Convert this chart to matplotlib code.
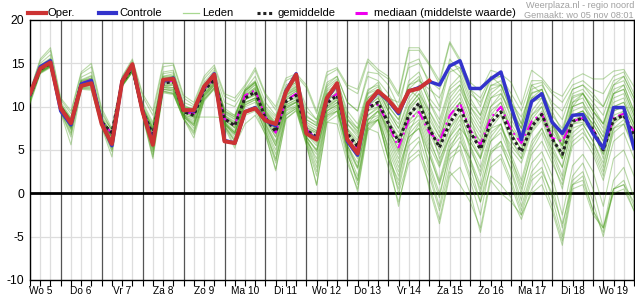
import matplotlib
matplotlib.use("Agg")
import matplotlib.pyplot as plt
from matplotlib.lines import Line2D

plt.rcParams['font.family'] = ['Liberation Sans', 'DejaVu Sans']

day_labels = ["Wo 5", "Do 6", "Vr 7", "Za 8", "Zo 9", "Ma 10", "Di 11", "Wo 12",
              "Do 13", "Vr 14", "Za 15", "Zo 16", "Ma 17", "Di 18", "Wo 19"]
y_ticks = [-10, -5, 0, 5, 10, 15, 20]
legend_labels = ['Oper.', 'Controle', 'Leden', 'gemiddelde', 'mediaan (middelste waarde)']

# 6-hourly steps from Wo 5 06:00 to Do 20 00:00 (60 steps)
oper = [11.5, 14.4, 15.1,
        9.8, 8.1, 12.4, 12.7, 8.0, 5.7, 12.9, 14.9, 9.4, 5.6, 13.1, 13.2,
        9.6, 9.6, 12.3, 13.7, 6.0, 5.8, 9.4, 9.8, 8.4, 8.0, 11.7, 13.7,
        6.9, 6.2, 11.0, 12.7, 6.2, 4.6, 10.4, 11.8, 10.8, 9.4, 11.8, 12.1, 13.0]

controle = [11.4, 14.6, 15.3,
            9.5, 7.9, 12.6, 13.0, 8.2, 5.5, 13.0, 14.8, 9.5, 5.8, 12.9, 13.3,
            9.6, 9.5, 12.2, 13.8, 6.1, 5.8, 9.4, 9.9, 8.4, 7.8, 11.8, 13.8,
            7.0, 6.3, 10.9, 12.6, 6.0, 4.4, 10.3, 11.7, 10.7, 9.2, 11.8, 12.2,
            12.9, 12.5, 14.7, 15.3, 12.1, 12.1, 13.2, 14.0, 10.0, 6.2, 10.6, 11.5,
            8.2, 6.9, 9.0, 9.1, 6.9, 5.2, 9.9, 9.9, 5.2]

gemiddelde = [11.3, 14.3, 15.0,
              9.9, 8.1, 12.6, 12.9, 8.2, 7.0, 12.8, 14.5, 9.5, 6.8, 12.7, 12.9,
              9.4, 9.0, 11.9, 13.1, 8.6, 7.8, 11.0, 11.7, 8.7, 7.1, 10.6, 11.3,
              7.3, 6.5, 10.4, 11.3, 6.9, 5.4, 9.8, 10.5, 8.1, 6.0, 9.0, 10.4,
              7.5, 5.3, 8.1, 9.9, 7.1, 5.1, 8.1, 9.4, 6.7, 4.8, 7.7, 9.1,
              6.3, 4.5, 8.3, 8.7, 7.3, 5.0, 8.5, 9.0, 6.7]

mediaan = [11.3, 14.4, 15.0,
           9.9, 8.1, 12.7, 13.1, 8.3, 6.9, 12.8, 14.6, 9.5, 6.7, 12.8, 13.0,
           9.4, 9.2, 12.0, 13.2, 8.6, 7.9, 11.3, 11.9, 8.8, 7.0, 10.7, 11.5,
           7.4, 6.3, 10.6, 11.5, 6.5, 5.2, 10.2, 10.2, 8.0, 5.3, 8.5, 9.4,
           7.0, 6.0, 9.0, 10.4, 7.3, 5.6, 8.7, 10.0, 7.3, 5.8, 8.3, 9.2,
           6.4, 6.0, 8.3, 8.7, 7.3, 5.2, 8.7, 9.2, 7.1]

leden = [
    [11.6, 14.8, 15.6, 10.2, 8.6, 13.0, 13.5, 8.8, 7.4, 13.1, 15.0, 10.0, 7.5, 13.5, 13.8,
     10.0, 9.8, 12.6, 13.9, 9.5, 8.8, 11.8, 12.8, 9.6, 8.2, 11.6, 12.4, 8.5, 7.8, 11.8, 12.6,
     8.6, 7.5, 11.6, 12.3, 10.1, 8.5, 12.0, 13.2, 10.6, 8.5, 12.3, 13.6, 10.5, 9.0, 12.4, 13.0,
     10.4, 8.8, 11.6, 12.0, 9.0, 7.5, 11.2, 11.6, 9.5, 8.0, 11.5, 12.0, 9.0],
    [11.0, 14.0, 14.8, 9.6, 7.6, 12.4, 12.6, 8.0, 6.6, 12.6, 14.3, 9.2, 6.0, 12.2, 12.5,
     9.0, 8.4, 11.5, 12.8, 8.0, 6.8, 10.5, 11.0, 7.8, 5.5, 9.8, 10.5, 6.0, 4.5, 9.5, 10.2,
     5.2, 2.8, 8.0, 8.5, 5.5, 2.5, 6.8, 8.2, 4.5, 1.2, 5.5, 7.0, 3.5, 0.5, 4.8, 5.5,
     2.8, -0.8, 3.5, 4.8, 2.0, -2.5, 3.2, 4.5, 2.5, -1.5, 4.0, 5.0, 2.0],
    [11.9, 15.3, 16.5, 10.8, 9.2, 13.8, 14.6, 9.5, 7.2, 13.4, 15.3, 11.2, 9.0, 14.6, 14.8,
     11.0, 10.2, 13.2, 14.5, 11.2, 10.6, 12.3, 14.2, 11.3, 9.6, 13.0, 13.6, 12.2, 9.2, 13.6, 14.3,
     12.2, 11.5, 15.2, 14.0, 13.2, 11.2, 16.5, 16.5, 14.8, 12.6, 17.3, 15.2, 12.8, 11.8, 14.2, 13.8,
     12.8, 10.2, 14.2, 13.3, 11.8, 11.2, 13.2, 13.8, 13.2, 13.2, 14.1, 14.3, 12.3],
    [10.8, 14.1, 14.6, 9.8, 8.0, 12.2, 12.3, 8.1, 5.8, 12.5, 14.2, 9.0, 5.5, 12.0, 12.0,
     8.8, 8.0, 11.2, 12.4, 8.0, 7.0, 10.2, 10.8, 8.4, 6.5, 10.0, 10.6, 6.8, 5.8, 10.0, 11.0,
     6.5, 4.6, 9.5, 10.5, 7.5, 4.8, 8.2, 9.8, 6.5, 3.2, 6.8, 9.0, 6.5, 4.2, 8.0, 9.2,
     6.2, 4.0, 7.2, 8.8, 5.5, 3.0, 8.0, 8.2, 7.0, 4.5, 8.3, 8.8, 6.0],
    [10.3, 13.8, 14.5, 9.3, 5.6, 12.0, 11.9, 7.6, 4.2, 12.3, 14.0, 8.9, 4.0, 11.6, 11.4,
     8.6, 6.4, 10.6, 12.1, 7.6, 5.2, 9.0, 9.5, 6.7, 2.8, 8.6, 9.6, 5.6, 1.0, 8.2, 9.0,
     4.0, 0.2, 7.2, 8.5, 4.5, 1.0, 6.0, 8.0, 3.0, -0.5, 5.0, 6.5, 3.0, -1.0, 4.5, 6.0,
     3.5, 0.0, 5.0, 7.0, 4.0, 0.5, 6.5, 7.5, 5.0, 2.0, 7.5, 8.0, 5.5],
    [11.4, 14.6, 15.2, 10.0, 8.4, 12.8, 13.2, 8.4, 7.0, 13.0, 14.8, 9.8, 7.0, 13.2, 13.5,
     9.6, 9.2, 12.2, 13.5, 9.0, 8.0, 11.5, 12.5, 9.2, 7.5, 11.2, 12.0, 8.0, 7.2, 11.0, 12.0,
     8.0, 6.5, 10.5, 11.5, 9.0, 7.0, 10.0, 11.5, 8.5, 6.5, 9.5, 11.0, 8.0, 6.0, 9.0, 10.5,
     7.5, 5.5, 9.0, 10.5, 7.5, 5.5, 9.5, 10.0, 8.5, 6.5, 10.0, 10.5, 8.0],
    [11.2, 14.2, 15.0, 9.7, 7.8, 12.5, 12.8, 8.2, 6.8, 12.7, 14.4, 9.4, 6.5, 12.5, 12.7,
     9.3, 8.8, 11.8, 13.0, 8.4, 7.6, 10.8, 11.5, 8.5, 6.8, 10.2, 10.8, 7.0, 6.0, 10.0, 10.8,
     6.0, 4.5, 9.0, 9.8, 6.5, 3.5, 7.5, 8.5, 5.0, 1.5, 6.0, 7.5, 4.0, 0.0, 5.0, 6.0,
     2.5, -1.5, 2.5, 4.0, 1.0, -4.0, 2.0, 3.5, 0.5, -4.0, 1.5, 3.0, -0.5],
    [11.5, 14.5, 15.3, 10.1, 8.3, 12.7, 13.0, 8.5, 6.4, 12.9, 14.6, 9.6, 6.8, 12.9, 13.2,
     9.5, 9.3, 12.0, 13.3, 8.8, 7.8, 11.2, 12.0, 9.0, 7.3, 11.0, 11.8, 7.6, 7.0, 11.2, 12.4,
     7.5, 5.5, 10.5, 11.6, 10.5, 9.0, 12.5, 13.0, 12.0, 11.0, 14.0, 14.5, 11.5, 10.5, 13.0, 13.5,
     10.5, 8.0, 12.5, 12.8, 10.0, 8.5, 12.0, 12.5, 11.0, 10.0, 12.5, 13.0, 10.5],
    [11.1, 14.3, 14.9, 9.9, 8.1, 12.6, 12.9, 8.3, 6.2, 12.8, 14.5, 9.5, 6.2, 12.6, 13.0,
     9.4, 9.0, 11.9, 13.0, 8.6, 7.6, 11.3, 12.0, 8.8, 7.2, 10.8, 11.5, 7.2, 6.5, 10.5, 11.8,
     7.0, 5.5, 10.2, 11.0, 8.5, 6.0, 9.5, 11.0, 8.0, 5.0, 8.5, 10.5, 7.0, 5.0, 8.5, 10.0,
     7.0, 5.0, 8.0, 9.5, 6.5, 4.5, 8.5, 9.0, 7.5, 5.0, 9.0, 9.5, 7.0],
    [10.9, 14.0, 14.7, 9.5, 7.0, 12.3, 12.4, 7.9, 5.5, 12.5, 14.1, 9.1, 5.0, 12.0, 11.8,
     8.9, 7.5, 11.0, 12.5, 8.2, 6.5, 10.0, 10.5, 7.5, 4.5, 9.5, 10.0, 6.5, 3.5, 9.0, 9.8,
     5.0, 2.0, 8.0, 8.8, 4.0, 0.5, 5.5, 6.5, 2.5, -1.5, 4.0, 5.0, 1.5, -2.5, 3.5, 4.5,
     1.5, -2.0, 2.0, 3.0, -0.5, -5.0, 1.5, 2.5, -1.0, -5.0, 0.5, 1.5, -1.5],
    [11.7, 15.0, 16.0, 10.5, 8.8, 13.4, 14.0, 9.2, 7.3, 13.2, 15.1, 10.5, 8.2, 14.0, 14.2,
     10.5, 10.0, 12.8, 14.2, 10.5, 10.0, 12.0, 13.5, 10.5, 9.0, 12.5, 13.0, 10.0, 8.5, 12.8, 13.5,
     10.5, 9.5, 13.5, 13.0, 11.5, 9.5, 15.0, 15.5, 12.5, 10.0, 15.5, 14.0, 11.0, 9.0, 12.5, 12.5,
     9.5, 6.0, 10.5, 11.0, 8.0, 5.0, 10.0, 11.5, 10.0, 8.0, 12.0, 12.5, 9.5],
    [11.0, 14.1, 14.8, 9.8, 7.9, 12.4, 12.7, 8.1, 6.0, 12.6, 14.3, 9.3, 5.8, 12.4, 12.5,
     9.1, 8.6, 11.6, 12.9, 8.3, 7.2, 10.8, 11.3, 8.2, 6.0, 10.2, 10.8, 6.8, 5.5, 9.8, 10.8,
     6.2, 4.8, 9.5, 10.0, 6.8, 4.0, 8.0, 9.0, 5.5, 3.0, 6.5, 8.5, 5.5, 3.0, 7.0, 8.0,
     5.0, 3.5, 7.0, 8.5, 5.0, 3.0, 7.5, 8.0, 6.0, 3.5, 7.5, 8.5, 5.5],
    [11.3, 14.4, 15.1, 9.9, 8.2, 12.6, 13.0, 8.3, 6.6, 12.8, 14.5, 9.5, 6.6, 12.7, 12.8,
     9.4, 8.8, 11.8, 13.1, 8.5, 7.5, 10.8, 11.6, 8.5, 6.5, 10.5, 11.0, 6.5, 5.0, 9.5, 10.5,
     4.5, 1.5, 8.0, 9.5, 5.0, 0.0, 4.0, 5.0, 2.0, -2.0, 3.0, 6.0, 4.0, 1.0, 6.0, 7.5,
     5.5, 4.0, 8.0, 9.0, 6.0, 4.0, 9.0, 9.5, 7.5, 5.5, 10.0, 10.5, 8.0],
    [11.6, 14.7, 15.5, 10.3, 8.5, 13.1, 13.6, 8.7, 6.9, 13.1, 14.9, 10.2, 8.0, 13.8, 14.0,
     10.2, 9.6, 12.4, 13.6, 9.8, 9.0, 12.0, 13.0, 10.0, 8.8, 12.0, 12.8, 9.0, 8.0, 12.0, 13.0,
     9.5, 8.0, 12.0, 12.5, 9.5, 7.5, 11.0, 12.5, 9.5, 7.0, 10.5, 12.0, 9.5, 7.5, 11.0, 11.5,
     9.0, 7.0, 10.5, 11.5, 8.5, 6.5, 10.5, 11.0, 9.0, 7.0, 11.0, 11.5, 8.5],
    [10.7, 13.9, 14.6, 9.6, 7.4, 12.2, 12.2, 7.8, 5.0, 12.4, 14.1, 9.0, 4.8, 11.8, 11.6,
     8.7, 7.0, 10.8, 12.2, 7.8, 6.0, 9.5, 10.0, 7.0, 3.5, 9.0, 9.8, 5.8, 2.0, 8.5, 9.5,
     5.5, 3.0, 8.5, 9.0, 5.0, 2.0, 6.5, 7.5, 3.5, 0.0, 4.5, 5.5, 2.0, -1.0, 3.0, 4.0,
     1.0, -2.5, 1.5, 2.5, 0.0, -3.5, 1.0, 2.0, -2.0, -4.0, 0.5, 1.0, -2.0],
    [11.2, 14.5, 15.0, 10.0, 8.0, 12.5, 12.8, 8.2, 6.5, 12.8, 14.5, 9.6, 7.0, 12.8, 13.0,
     9.5, 9.0, 12.0, 13.2, 8.8, 8.0, 11.4, 12.2, 9.0, 7.5, 11.0, 11.8, 7.5, 6.8, 10.8, 11.5,
     7.2, 6.0, 10.5, 11.2, 8.0, 6.5, 9.8, 11.0, 7.5, 5.5, 9.0, 10.5, 7.5, 6.0, 9.5, 10.5,
     7.0, 5.0, 8.5, 10.0, 6.5, 4.0, 9.0, 9.5, 8.0, 6.0, 9.5, 10.0, 7.5],
    [10.5, 13.9, 14.7, 9.4, 6.5, 12.1, 12.0, 7.7, 4.8, 12.4, 14.0, 9.0, 4.5, 11.8, 11.5,
     8.6, 6.8, 10.8, 12.0, 7.8, 5.5, 8.0, 9.0, 6.8, 2.6, 8.6, 9.5, 5.6, 0.9, 8.2, 8.0,
     3.5, 0.5, 7.5, 7.0, 3.0, -1.0, 3.5, 4.5, 1.0, -3.0, 2.5, 1.0, -1.0, -4.0, 2.0, 1.0,
     -0.5, -3.0, 0.5, 2.0, -1.5, -5.5, 1.0, 1.5, -2.0, -4.5, 0.5, 1.0, -1.0],
    [11.5, 14.5, 15.4, 10.2, 8.6, 12.9, 13.3, 8.5, 7.0, 13.0, 14.7, 9.8, 7.2, 13.3, 13.4,
     9.8, 9.5, 12.3, 13.5, 9.2, 8.5, 11.6, 12.6, 9.3, 7.8, 11.3, 12.2, 8.2, 7.5, 11.5, 12.2,
     8.5, 7.0, 11.0, 12.0, 11.0, 10.5, 14.5, 15.0, 13.0, 12.0, 15.0, 14.5, 12.0, 11.0, 13.5, 13.5,
     11.5, 9.5, 13.0, 13.0, 11.5, 10.5, 12.5, 13.0, 12.0, 11.5, 13.5, 14.0, 11.5],
    [11.0, 14.2, 14.8, 9.7, 7.7, 12.4, 12.6, 8.0, 5.9, 12.6, 14.3, 9.2, 5.5, 12.3, 12.2,
     9.0, 8.2, 11.4, 12.7, 8.2, 7.0, 10.5, 11.0, 8.0, 5.8, 10.0, 10.5, 6.5, 5.0, 9.8, 10.5,
     6.0, 4.0, 9.0, 10.0, 7.0, 4.5, 8.5, 9.5, 6.0, 3.5, 7.5, 9.0, 5.0, 2.5, 6.5, 8.0,
     4.5, 1.5, 6.0, 7.5, 4.5, 1.5, 6.0, 7.0, 5.5, 2.5, 7.0, 8.0, 5.0],
    [11.8, 15.5, 16.8, 11.0, 9.5, 14.0, 15.0, 9.8, 7.5, 13.5, 15.5, 11.5, 9.5, 15.0, 15.0,
     11.3, 10.5, 13.5, 14.8, 11.5, 11.0, 12.5, 14.5, 11.5, 10.0, 13.3, 13.8, 12.5, 9.5, 14.0, 14.5,
     12.5, 12.0, 15.5, 14.3, 13.5, 11.5, 16.8, 16.8, 15.0, 13.0, 17.5, 15.5, 12.0, 10.0, 13.5, 12.5,
     11.0, 8.0, 12.5, 11.5, 9.5, 7.0, 11.5, 12.0, 10.5, 9.0, 12.5, 13.5, 11.0],
    [11.1, 14.2, 14.9, 9.7, 7.5, 12.4, 12.6, 8.0, 5.6, 12.6, 14.2, 9.2, 5.3, 12.2, 12.0,
     9.0, 7.8, 11.3, 12.6, 8.0, 6.8, 10.2, 10.8, 7.6, 5.0, 9.6, 10.2, 6.2, 4.0, 9.2, 10.0,
     4.8, 1.0, 7.8, 8.5, 4.0, -1.5, 4.5, 6.0, 0.5, -3.5, 2.0, 3.0, 0.0, -4.5, 1.5, 0.0,
     -1.0, -2.5, 0.0, 1.0, -2.0, -6.0, 0.5, 1.0, -2.5, -4.0, 0.0, 0.5, -2.0],
    [11.3, 14.3, 15.0, 9.9, 8.2, 12.7, 13.0, 8.4, 6.7, 12.9, 14.6, 9.7, 7.2, 13.0, 13.2,
     9.6, 9.2, 12.1, 13.3, 8.9, 8.2, 11.0, 11.8, 8.9, 7.4, 10.8, 11.5, 7.6, 7.0, 10.8, 11.6,
     7.5, 6.2, 10.0, 11.0, 8.5, 6.5, 9.0, 10.5, 8.0, 6.0, 9.0, 10.5, 7.0, 5.5, 8.5, 10.0,
     7.5, 6.0, 9.0, 10.0, 7.0, 5.5, 9.0, 9.5, 8.0, 6.0, 9.5, 10.0, 7.5],
    [11.0, 14.0, 14.7, 9.6, 7.3, 12.3, 12.5, 7.9, 5.3, 12.5, 14.1, 9.0, 5.2, 12.0, 11.8,
     8.8, 7.8, 11.2, 12.5, 8.0, 6.2, 9.2, 10.0, 7.2, 4.0, 9.2, 10.0, 6.2, 3.0, 9.0, 9.5,
     5.5, 3.0, 8.5, 9.5, 7.5, 5.0, 10.0, 11.5, 9.5, 7.5, 11.5, 12.5, 9.0, 7.0, 11.0, 12.0,
     8.5, 6.5, 11.0, 12.0, 8.5, 7.0, 11.0, 11.5, 9.5, 8.0, 11.5, 12.5, 9.5],
    [11.4, 14.6, 15.3, 10.1, 8.4, 12.9, 13.2, 8.6, 7.0, 13.0, 14.8, 10.0, 7.6, 13.5, 13.6,
     10.0, 9.6, 12.5, 13.7, 9.5, 9.0, 11.8, 12.8, 9.5, 8.0, 11.5, 12.3, 8.5, 7.8, 11.5, 12.5,
     8.5, 7.2, 11.0, 11.8, 9.5, 7.5, 10.5, 12.0, 9.0, 6.5, 10.0, 11.5, 8.5, 6.5, 10.0, 11.0,
     8.0, 6.0, 9.5, 11.0, 8.0, 6.0, 10.0, 10.5, 8.5, 6.5, 10.5, 11.0, 8.0],
    [11.2, 14.4, 15.2, 10.0, 8.3, 12.8, 13.1, 8.4, 6.8, 12.9, 14.6, 9.7, 7.4, 13.1, 13.3,
     9.7, 9.4, 12.2, 13.4, 9.0, 8.3, 11.2, 12.2, 9.2, 7.8, 11.4, 12.0, 7.8, 7.2, 11.4, 12.2,
     8.0, 6.8, 11.5, 12.0, 9.5, 8.0, 13.0, 14.0, 11.0, 9.5, 14.5, 13.5, 9.0, 5.0, 7.5, 8.0,
     4.0, 0.5, 4.5, 6.0, 3.5, 1.0, 5.5, 6.5, 4.5, 1.5, 6.0, 7.0, 4.0],
    [10.6, 13.9, 14.6, 9.4, 6.8, 12.1, 12.1, 7.7, 5.2, 12.4, 14.0, 9.0, 4.2, 11.7, 11.5,
     8.6, 7.2, 10.9, 12.2, 7.8, 6.0, 9.3, 10.0, 7.2, 3.8, 9.0, 9.8, 6.0, 2.5, 8.8, 9.5,
     4.5, 1.5, 7.5, 8.5, 4.0, 1.5, 7.0, 9.5, 7.5, 5.5, 11.0, 12.5, 10.0, 8.5, 12.0, 12.5,
     10.0, 7.5, 12.0, 12.5, 10.5, 9.5, 12.0, 12.5, 11.5, 10.0, 13.0, 13.5, 11.0],
    [11.3, 14.2, 15.0, 9.8, 8.0, 12.5, 12.8, 8.2, 6.5, 12.7, 14.4, 9.4, 6.8, 12.4, 12.6,
     9.0, 8.8, 8.8, 8.8, 8.7, 8.0, 10.8, 11.4, 8.6, 7.0, 10.4, 11.2, 7.2, 6.2, 10.2, 11.2,
     6.8, 5.2, 9.8, 10.5, 7.0, 5.5, 9.0, 10.0, 7.0, 4.5, 7.5, 9.5, 6.0, 4.0, 7.5, 9.0,
     6.0, 4.5, 7.5, 9.0, 6.5, 4.0, 8.0, 8.5, 7.0, 4.5, 8.5, 9.0, 6.5],
    [11.4, 14.5, 15.1, 10.0, 8.2, 12.7, 13.0, 8.4, 6.6, 12.9, 14.6, 9.8, 7.5, 13.2, 13.4,
     9.8, 9.4, 12.3, 13.4, 9.4, 8.8, 11.8, 12.8, 9.8, 8.5, 12.2, 12.8, 9.5, 8.5, 12.5, 13.5,
     10.5, 9.5, 14.0, 13.8, 12.5, 10.0, 12.0, 11.0, 8.0, 4.0, 6.5, 8.0, 5.5, 2.0, 6.0, 7.0,
     4.0, 1.0, 5.5, 7.5, 5.0, 2.0, 7.0, 8.0, 6.0, 3.0, 8.0, 9.0, 6.0],
    [11.0, 14.1, 14.8, 9.7, 7.6, 12.4, 12.6, 8.0, 5.8, 12.6, 14.2, 9.2, 5.6, 12.2, 12.2,
     9.0, 8.0, 11.4, 12.7, 8.2, 7.0, 10.4, 11.0, 8.0, 5.5, 9.8, 10.5, 6.5, 4.8, 9.5, 10.2,
     5.5, 3.5, 8.5, 9.5, 6.0, 3.0, 6.5, 7.5, 4.5, 1.0, 5.0, 7.5, 6.0, 4.0, 10.0, 11.5,
     9.5, 7.5, 11.5, 12.0, 8.5, 5.5, 10.0, 10.5, 7.5, 4.0, 8.5, 9.5, 6.0],
    [11.5, 14.7, 15.4, 10.2, 8.5, 13.0, 13.3, 8.6, 6.8, 13.0, 14.7, 9.9, 7.8, 13.4, 13.5,
     9.9, 9.5, 12.4, 13.6, 9.3, 8.6, 11.9, 12.9, 9.4, 8.0, 11.8, 12.6, 8.8, 8.2, 12.3, 13.2,
     9.0, 7.5, 11.8, 12.8, 10.0, 8.5, 12.5, 13.5, 10.5, 8.0, 12.0, 13.0, 10.0, 8.0, 11.5, 12.5,
     9.5, 7.5, 11.0, 11.5, 8.0, 5.5, 10.5, 11.5, 9.5, 7.5, 11.5, 12.0, 9.0],
]

n = len(gemiddelde)
xs = list(range(n))

fig = plt.figure(figsize=(6.35, 3.00), dpi=100)
ax = fig.add_axes([30 / 635, 20 / 300, 604 / 635, 260 / 300])

ax.set_xlim(0, n - 1)
ax.set_ylim(-10, 20)

# grid
for i in xs:
    if (i - 3) % 4 == 0:
        ax.axvline(i, color='#555555', lw=0.9, zorder=1)
    else:
        ax.axvline(i, color='#dddddd', lw=0.9, zorder=0)
for yv in [-5, 5, 10, 15]:
    ax.axhline(yv, color='#dddddd', lw=0.9, zorder=0)
ax.axhline(0, color='black', lw=2.0, zorder=2)

for m in leden:
    ax.plot(xs, m, color='#4a9e1c', lw=0.8, alpha=0.38, zorder=3)

ax.plot(xs, mediaan, color='#ee00ee', lw=1.5, dashes=(5, 2, 1, 2), zorder=4)
ax.plot(xs, gemiddelde, color='#222222', lw=2.2, dashes=(1.0, 0.9), zorder=5)
ax.plot(xs, controle, color='#3333cc', lw=2.5, zorder=6)
ax.plot(xs[:len(oper)], oper, color='#cc3333', lw=2.9, zorder=7)

# axes styling
for s in ax.spines.values():
    s.set_color('black')
    s.set_linewidth(1.0)
ax.set_yticks(y_ticks)
ax.set_yticklabels([str(v) for v in y_ticks])
ax.tick_params(axis='y', length=0, pad=4, labelsize=8.7)
ax.set_xticks(xs)
ax.set_xticklabels([''] * n)
ax.tick_params(axis='x', length=4, width=0.8, direction='out')
for k, lab in enumerate(day_labels):
    ax.text(1 + 4 * k, -10.65, lab, ha='center', va='top', fontsize=7.3)

# legend drawn manually in pixel positions
H = 300.0
W = 635.0
leg_y = 1 - 13 / H
items = [
    (28, 46, 48, dict(color='#cc3333', lw=3.0)),
    (99, 116, 119, dict(color='#3333cc', lw=3.0)),
    (183, 199, 202, dict(color='#a8d890', lw=0.9)),
    (257, 273, 277, dict(color='#222222', lw=2.2, dashes=(1.0, 0.9))),
    (355, 371, 374, dict(color='#ee00ee', lw=2.2, dashes=(4, 2.5, 1, 2))),
]
for (x0, x1, xt, style), lab in zip(items, legend_labels):
    fig.add_artist(Line2D([x0 / W, x1 / W], [leg_y, leg_y], transform=fig.transFigure, **style))
    fig.text(xt / W, leg_y, lab, ha='left', va='center', fontsize=8.1)

fig.text(634 / W, 1 - 5 / H, 'Weerplaza.nl - regio noord', ha='right', va='center',
         fontsize=6.6, color='#a0a0a0')
fig.text(634 / W, 1 - 15.5 / H, 'Gemaakt: wo 05 nov 08:01', ha='right', va='center',
         fontsize=6.6, color='#a0a0a0')

fig.savefig('out.png', dpi=100)
